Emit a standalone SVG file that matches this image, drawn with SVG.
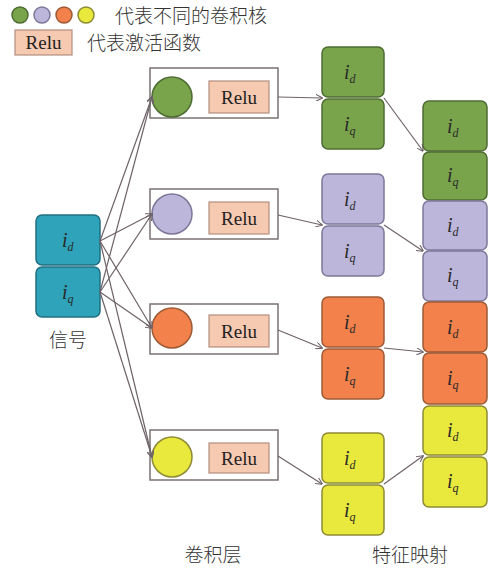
<svg xmlns="http://www.w3.org/2000/svg" width="488" height="571" viewBox="0 0 488 571">
<defs>
<style>
.cell{stroke-width:1.5}
.teal{fill:#2ea3b9;stroke:#1f6f80}
.green{fill:#79a44c;stroke:#4d6b32}
.purple{fill:#bcb6da;stroke:#7d7799}
.orange{fill:#f2814b;stroke:#9c5a36}
.yellow{fill:#e9e83c;stroke:#8c8a34}
.var{font-family:"Liberation Serif",serif;font-style:italic;font-size:20px;fill:#2a2a2a}
.sub{font-size:12px}
.relu{fill:#f6c9b1;stroke:#b48e7e;stroke-width:1.2}
.relut{font-family:"Liberation Serif",serif;font-size:19px;fill:#222;text-anchor:middle}
.box{fill:#fff;stroke:#7a7272;stroke-width:1.5}
.cn{font-family:"Noto Sans CJK SC",sans-serif;font-size:19px;font-weight:300;fill:#333}
.conn{stroke:#6e6268;stroke-width:1.2;fill:none;marker-end:url(#ah)}
</style>
<marker id="ah" viewBox="0 0 10 10" refX="9" refY="5" markerWidth="7" markerHeight="7" orient="auto" markerUnits="userSpaceOnUse">
<path d="M0,0 L10,5 L0,10" fill="none" stroke="#6e6268" stroke-width="1.5"/>
</marker>
</defs>
<rect width="488" height="571" fill="#fff"/>

<g id="legend">
<circle cx="20" cy="15" r="8" class="green" stroke-width="1.5"/>
<circle cx="42" cy="15" r="8" class="purple" stroke-width="1.5"/>
<circle cx="64" cy="15" r="8" class="orange" stroke-width="1.5"/>
<circle cx="86" cy="15" r="8" class="yellow" stroke-width="1.5"/>
<text x="115" y="23" class="cn">代表不同的卷积核</text>
<rect x="15" y="30" width="57" height="25" class="relu"/>
<text x="43.5" y="49" class="relut">Relu</text>
<text x="87" y="50" class="cn">代表激活函数</text>
</g>

<g id="signal">
<rect x="36" y="215" width="64" height="50" rx="6" class="cell teal"/>
<text x="62" y="247" class="var">i<tspan class="sub" dy="4">d</tspan></text>
<rect x="36" y="267" width="64" height="50" rx="6" class="cell teal"/>
<text x="62" y="299" class="var">i<tspan class="sub" dy="4">q</tspan></text>
<text x="68" y="347" class="cn" text-anchor="middle">信号</text>
</g>

<g id="conv1">
<rect x="150" y="68" width="128" height="50" class="box"/>
<circle cx="172" cy="97" r="20" class="green" stroke-width="1.5"/>
<rect x="209" y="81" width="60" height="32" class="relu"/>
<text x="239" y="104" class="relut">Relu</text>
</g>
<g id="conv2">
<rect x="150" y="189" width="128" height="50" class="box"/>
<circle cx="172" cy="214" r="20" class="purple" stroke-width="1.5"/>
<rect x="209" y="202" width="60" height="32" class="relu"/>
<text x="239" y="225" class="relut">Relu</text>
</g>
<g id="conv3">
<rect x="150" y="304" width="128" height="50" class="box"/>
<circle cx="172" cy="328" r="20" class="orange" stroke-width="1.5"/>
<rect x="209" y="315" width="60" height="32" class="relu"/>
<text x="239" y="338" class="relut">Relu</text>
</g>
<g id="conv4">
<rect x="150" y="430" width="128" height="50" class="box"/>
<circle cx="172" cy="457" r="20" class="yellow" stroke-width="1.5"/>
<rect x="209" y="443" width="60" height="30" class="relu"/>
<text x="239" y="465" class="relut">Relu</text>
</g>
<text x="213" y="562" class="cn" text-anchor="middle">卷积层</text>

<g id="fm1">
<rect x="322" y="47" width="62" height="50" rx="6" class="cell green"/>
<text x="344" y="79" class="var">i<tspan class="sub" dy="4">d</tspan></text>
<rect x="322" y="99" width="62" height="50" rx="6" class="cell green"/>
<text x="344" y="131" class="var">i<tspan class="sub" dy="4">q</tspan></text>
</g>
<g id="fm2">
<rect x="322" y="174" width="62" height="50" rx="6" class="cell purple"/>
<text x="344" y="206" class="var">i<tspan class="sub" dy="4">d</tspan></text>
<rect x="322" y="226" width="62" height="50" rx="6" class="cell purple"/>
<text x="344" y="258" class="var">i<tspan class="sub" dy="4">q</tspan></text>
</g>
<g id="fm3">
<rect x="322" y="297" width="62" height="50" rx="6" class="cell orange"/>
<text x="344" y="329" class="var">i<tspan class="sub" dy="4">d</tspan></text>
<rect x="322" y="349" width="62" height="50" rx="6" class="cell orange"/>
<text x="344" y="381" class="var">i<tspan class="sub" dy="4">q</tspan></text>
</g>
<g id="fm4">
<rect x="322" y="433" width="62" height="50" rx="6" class="cell yellow"/>
<text x="344" y="465" class="var">i<tspan class="sub" dy="4">d</tspan></text>
<rect x="322" y="485" width="62" height="50" rx="6" class="cell yellow"/>
<text x="344" y="517" class="var">i<tspan class="sub" dy="4">q</tspan></text>
</g>

<g id="output">
<rect x="423" y="101" width="64" height="50" rx="6" class="cell green"/>
<text x="447" y="133" class="var">i<tspan class="sub" dy="4">d</tspan></text>
<rect x="423" y="152" width="64" height="48" rx="6" class="cell green"/>
<text x="447" y="182" class="var">i<tspan class="sub" dy="4">q</tspan></text>
<rect x="423" y="201" width="64" height="49" rx="6" class="cell purple"/>
<text x="447" y="232" class="var">i<tspan class="sub" dy="4">d</tspan></text>
<rect x="423" y="251" width="64" height="50" rx="6" class="cell purple"/>
<text x="447" y="282" class="var">i<tspan class="sub" dy="4">q</tspan></text>
<rect x="423" y="302" width="64" height="50" rx="6" class="cell orange"/>
<text x="447" y="334" class="var">i<tspan class="sub" dy="4">d</tspan></text>
<rect x="423" y="353" width="64" height="51" rx="6" class="cell orange"/>
<text x="447" y="385" class="var">i<tspan class="sub" dy="4">q</tspan></text>
<rect x="423" y="406" width="64" height="49" rx="6" class="cell yellow"/>
<text x="447" y="437" class="var">i<tspan class="sub" dy="4">d</tspan></text>
<rect x="423" y="457" width="64" height="50" rx="6" class="cell yellow"/>
<text x="447" y="488" class="var">i<tspan class="sub" dy="4">q</tspan></text>
</g>
<text x="410" y="562" class="cn" text-anchor="middle">特征映射</text>

<g id="connectors">
<line x1="100" y1="241" x2="152" y2="97" class="conn"/>
<line x1="100" y1="292" x2="152" y2="97" class="conn"/>
<line x1="100" y1="241" x2="152" y2="214" class="conn"/>
<line x1="100" y1="292" x2="152" y2="214" class="conn"/>
<line x1="100" y1="241" x2="152" y2="328" class="conn"/>
<line x1="100" y1="292" x2="152" y2="328" class="conn"/>
<line x1="100" y1="241" x2="152" y2="457" class="conn"/>
<line x1="100" y1="292" x2="152" y2="457" class="conn"/>
<line x1="278" y1="97" x2="322" y2="98" class="conn"/>
<line x1="278" y1="215" x2="322" y2="225" class="conn"/>
<line x1="278" y1="330" x2="322" y2="348" class="conn"/>
<line x1="278" y1="456" x2="322" y2="484" class="conn"/>
<line x1="384" y1="98" x2="423" y2="151" class="conn"/>
<line x1="384" y1="225" x2="423" y2="251" class="conn"/>
<line x1="384" y1="348" x2="423" y2="352" class="conn"/>
<line x1="384" y1="484" x2="423" y2="456" class="conn"/>
</g>
</svg>
